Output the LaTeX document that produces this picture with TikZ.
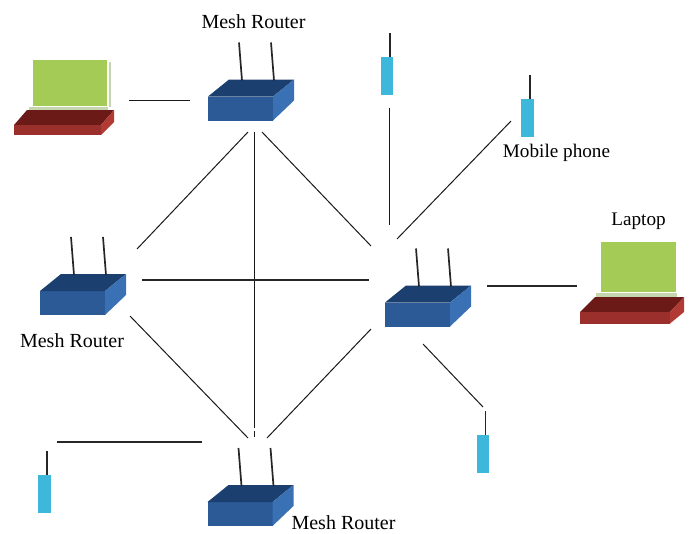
\documentclass[tikz,border=0pt]{standalone}
\usepackage{fontspec}
\setmainfont{Liberation Serif}
\definecolor{rfront}{HTML}{2B5A97}
\definecolor{rtop}{HTML}{1B3F6E}
\definecolor{rside}{HTML}{3A70B4}
\definecolor{lscreen}{HTML}{A3CB55}
\definecolor{lpale}{HTML}{C5D6AE}
\definecolor{kfront}{HTML}{9B2F2B}
\definecolor{ktop}{HTML}{6C1A17}
\definecolor{kside}{HTML}{B23A35}
\definecolor{phonec}{HTML}{3DB7DA}
\tikzset{
  x=1pt,y=-1pt,
  link/.style={draw=black!90,line width=1pt},
  linkheavy/.style={draw=black!85,line width=1.2pt},
  antenna/.style={draw=black!85,line width=1.7pt},
  lbl/.style={font=\fontsize{20}{22}\selectfont,inner sep=0pt},
  lblsmall/.style={font=\fontsize{19.2}{22}\selectfont,inner sep=0pt},
  router/.pic={
    \fill[rfront] (0,0) rectangle (65,24);
    \fill[rtop] (0,0) -- (21,-17) -- (86,-17) -- (65,0) -- cycle;
    \fill[rside] (65,0) -- (86,-17) -- (86,4) -- (65,24) -- cycle;
    \draw[antenna] (31,-54) -- (34,-16);
    \draw[antenna] (63,-54) -- (66,-16);
  },
  laptopleft/.pic={
    \fill[lscreen] (33,60) rectangle (107,106);
    \fill[lpale] (109,62) rectangle (111,107);
    \fill[lpale] (29,107) rectangle (108,110);
    \fill[ktop] (27,110) -- (114,110) -- (101,125) -- (14,125) -- cycle;
    \fill[kfront] (14,125) rectangle (101,135);
    \fill[kside] (101,125) -- (114,110) -- (114,122) -- (101,135) -- cycle;
  },
  laptopright/.pic={
    \fill[lscreen] (601,242) rectangle (676,292);
    \fill[lpale] (596,293) rectangle (677,297);
    \fill[ktop] (595,297) -- (684,297) -- (670,312) -- (580,312) -- cycle;
    \fill[kfront] (580,312) rectangle (670,323.5);
    \fill[kside] (670,312) -- (684,297) -- (684,312) -- (670,323.5) -- cycle;
  },
  phone/.pic={
    \fill[phonec] (-9,24) rectangle (3.5,61.5);
    \draw[antenna] (0,0) -- (0,24);
  }
}
\begin{document}
\begin{tikzpicture}
\useasboundingbox (0,0) rectangle (692,533);
% devices
\pic at (208,96.5) {router};
\pic at (40,291) {router};
\pic at (385,302.5) {router};
\pic at (207.5,502) {router};
\pic at (0,0) {laptopleft};
\pic at (0,0) {laptopright};
\pic at (389.7,33) {phone};
\pic at (530,75) {phone};
\pic at (485.5,411) {phone};
\pic at (47,451) {phone};
% labels
\node[lbl] (ltop) at (253.5,21.5) {Mesh Router};
\node[lbl] (lleft) at (72,341) {Mesh Router};
\node[lbl] (lbottom) at (343.5,523) {Mesh Router};
\node[lblsmall] (lphone) at (556.5,153) {Mobile phone};
\node[lblsmall] (llaptop) at (638.5,221.5) {Laptop};
% connector ends
\coordinate (a1) at (129,100); \coordinate (a2) at (190,100);
\coordinate (b1) at (137,249); \coordinate (b2) at (248,132);
\coordinate (c1) at (254.7,132); \coordinate (c2) at (254.7,428);
\coordinate (c3) at (254.7,431); \coordinate (c4) at (254.7,437);
\coordinate (d1) at (262,132); \coordinate (d2) at (371,246);
\coordinate (e1) at (142,280); \coordinate (e2) at (369,280);
\coordinate (f1) at (130,316); \coordinate (f2) at (248,438);
\coordinate (g1) at (267,438); \coordinate (g2) at (371,329);
\coordinate (h1) at (389.5,108); \coordinate (h2) at (389.5,225);
\coordinate (i1) at (397,239); \coordinate (i2) at (511,121);
\coordinate (j1) at (487,286); \coordinate (j2) at (577,286);
\coordinate (k1) at (423,344); \coordinate (k2) at (483,407);
\coordinate (m1) at (57,442); \coordinate (m2) at (202,442);
\foreach \p/\q in {a1/a2,b1/b2,c1/c2,c3/c4,d1/d2,f1/f2,g1/g2,h1/h2,i1/i2,k1/k2}
  \draw[link] (\p) -- (\q);
\foreach \p/\q in {e1/e2,j1/j2,m1/m2}
  \draw[linkheavy] (\p) -- (\q);
\end{tikzpicture}
\end{document}
